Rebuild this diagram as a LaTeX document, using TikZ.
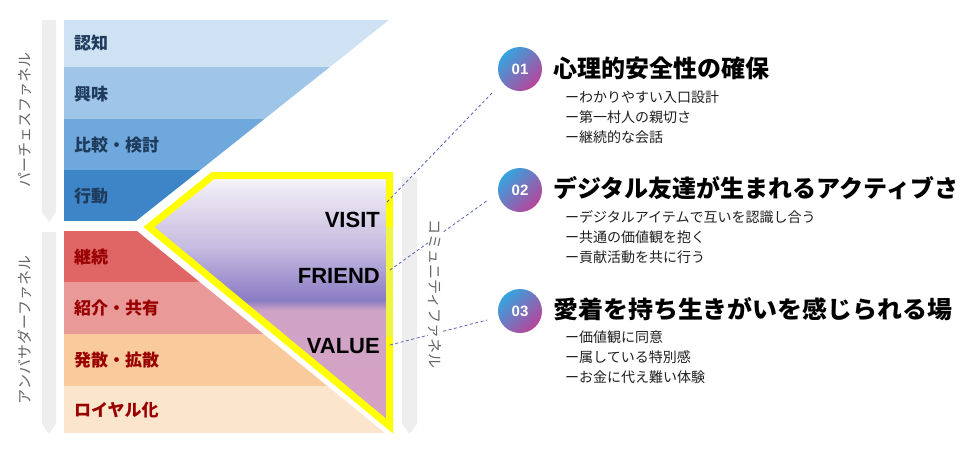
\documentclass[tikz,border=0pt]{standalone}
\usepackage{fontspec}
\newfontfamily\jp{Noto Sans CJK JP}
\newfontfamily\arial{Liberation Sans}
\definecolor{uA}{HTML}{CFE2F3}
\definecolor{uB}{HTML}{9FC5E8}
\definecolor{uC}{HTML}{6FA8DC}
\definecolor{uD}{HTML}{3D85C6}
\definecolor{lA}{HTML}{E06666}
\definecolor{lB}{HTML}{EA9999}
\definecolor{lC}{HTML}{F9CB9C}
\definecolor{lD}{HTML}{FCE5CD}
\definecolor{navytxt}{HTML}{1F3B5C}
\definecolor{redtxt}{HTML}{990000}
\definecolor{graytxt}{HTML}{666666}
\definecolor{barcol}{HTML}{EEEEEE}
\definecolor{ylw}{HTML}{FFFF00}
\definecolor{ylwlt}{HTML}{EEF542}
\definecolor{dashcol}{HTML}{5A64B8}
\definecolor{cblue}{HTML}{35A4DF}
\definecolor{cmag}{HTML}{B8449A}
\definecolor{gA}{HTML}{FBFAFD}
\definecolor{gB}{HTML}{ECE8F3}
\definecolor{gC}{HTML}{DCD5EA}
\definecolor{gD}{HTML}{C5BCE0}
\definecolor{gE}{HTML}{A89BD2}
\definecolor{gF}{HTML}{8A7CC4}
\definecolor{gG}{HTML}{CFA3C6}
\definecolor{gH}{HTML}{D6A2C4}
\pgfdeclareverticalshading{commgrad}{100bp}{color(0bp)=(gH); color(25bp)=(gH); color(48.1bp)=(gG); color(50.1bp)=(gF); color(55.4bp)=(gE); color(60.7bp)=(gD); color(67.2bp)=(gC); color(72.1bp)=(gB); color(75bp)=(gA); color(100bp)=(gA)}
\tikzset{
  uplabel/.style={anchor=west, text=navytxt, font=\jp\bfseries\fontsize{17}{20}\selectfont, inner sep=0pt},
  lowlabel/.style={anchor=west, text=redtxt, font=\jp\bfseries\fontsize{17}{20}\selectfont, inner sep=0pt},
  vlabel/.style={text=graytxt, font=\jp\fontsize{15}{18}\selectfont, inner sep=1pt},
  stagelabel/.style={anchor=base east, font=\arial\bfseries\fontsize{22}{26}\selectfont, inner sep=0pt},
  numcircle/.style={circle, minimum size=44pt, inner sep=0pt, top color=cblue, bottom color=cmag, shading angle=45, text=white, font=\arial\bfseries\fontsize{15}{17}\selectfont},
  titletext/.style={anchor=west, font=\jp\bfseries\fontsize{24}{28}\selectfont, inner sep=0pt},
  itemtext/.style={anchor=west, text=black!88, font=\jp\fontsize{14}{16}\selectfont, inner sep=0pt},
  connector/.style={dashcol, line width=0.8pt, dash pattern=on 3pt off 2.5pt},
  bar/.style={fill=barcol}
}
\begin{document}
\begin{tikzpicture}[x=1pt,y=-1pt]
\useasboundingbox (0,0) rectangle (976,448);
% gray side bars
\fill[bar] (42,20) -- (56,20) -- (56,212) -- (49,222) -- (42,212) -- cycle;
\fill[bar] (42,232) -- (56,232) -- (56,424) -- (49,434) -- (42,424) -- cycle;
\fill[bar] (402,177) -- (417,177) -- (417,424) -- (409.5,434) -- (402,424) -- cycle;
% upper funnel
\begin{scope}
\clip (64,20) -- (389,20) -- (136,221) -- (64,221) -- cycle;
\fill[uA] (64,20) rectangle (400,67);
\fill[uB] (64,67) rectangle (400,119);
\fill[uC] (64,119) rectangle (400,170);
\fill[uD] (64,170) rectangle (400,221);
\end{scope}
% lower funnel
\begin{scope}
\clip (64,231) -- (137,231) -- (385,433) -- (64,433) -- cycle;
\fill[lA] (64,231) rectangle (400,282);
\fill[lB] (64,282) rectangle (400,334);
\fill[lC] (64,334) rectangle (400,386);
\fill[lD] (64,386) rectangle (400,433);
\end{scope}
% community funnel shape
\shade[shading=commgrad] (213,175.5) -- (389.5,175.5) -- (389.5,426) -- (149,227) -- cycle;
\draw[ylw, line width=7pt, line join=miter] (213,175.5) -- (389.5,175.5) -- (389.5,426) -- (149,227) -- cycle;
\draw[ylwlt, line width=7pt] (389.5,227) -- (389.5,337);
% stage labels
\node[uplabel] (ninchi) at (74,43) {認知};
\node[uplabel] (kyomi) at (74,94) {興味};
\node[uplabel] (hikaku) at (74,145) {比較・検討};
\node[uplabel] (kodo) at (74,196) {行動};
\node[lowlabel] (keizoku) at (74,257) {継続};
\node[lowlabel] (shokai) at (74,308) {紹介・共有};
\node[lowlabel] (hassan) at (74,360) {発散・拡散};
\node[lowlabel] (royal) at (74,410) {ロイヤル化};
\node[stagelabel] (visit) at (380,227) {VISIT};
\node[stagelabel] (friend) at (380,283) {FRIEND};
\node[stagelabel] (value) at (380,353) {VALUE};
% vertical labels left
\node[vlabel, rotate=90] (purchase) at (25,120) {パーチェスファネル};
\node[vlabel, rotate=90] (ambassador) at (25,330) {アンバサダーファネル};
% circles
\node[numcircle] (c1) at (520,69) {01};
\node[numcircle] (c2) at (520,190) {02};
\node[numcircle] (c3) at (520,311) {03};
% connectors
\coordinate (v0) at (387,202);
\coordinate (v1) at (492,93);
\coordinate (f0) at (390,270);
\coordinate (f1) at (488,200);
\coordinate (a0) at (390,345);
\coordinate (a1) at (487,320);
\draw[connector] (v0) -- (v1);
\draw[connector] (f0) -- (f1);
\draw[connector] (a0) -- (a1);
% vertical label right (covers connectors)
\node[vlabel, rotate=-90, fill=white, inner xsep=2pt, inner ysep=0pt] (community) at (435,294) {コミュニティファネル};
% titles
\node[titletext] (t1) at (553,68) {心理的安全性の確保};
\node[titletext] (t2) at (553,188) {デジタル友達が生まれるアクティブさ};
\node[titletext] (t3) at (553,309) {\scalebox{1.04}[1]{愛着を持ち生きがいを感じられる場}};
% items
\node[itemtext] (i11) at (565,97) {ーわかりやすい入口設計};
\node[itemtext] (i12) at (565,117) {ー第一村人の親切さ};
\node[itemtext] (i13) at (565,137) {ー継続的な会話};
\node[itemtext] (i21) at (565,217) {ーデジタルアイテムで互いを認識し合う};
\node[itemtext] (i22) at (565,237) {ー共通の価値観を抱く};
\node[itemtext] (i23) at (565,257) {ー貢献活動を共に行う};
\node[itemtext] (i31) at (565,337) {ー価値観に同意};
\node[itemtext] (i32) at (565,357) {ー属している特別感};
\node[itemtext] (i33) at (565,377) {ーお金に代え難い体験};
\end{tikzpicture}
\end{document}
